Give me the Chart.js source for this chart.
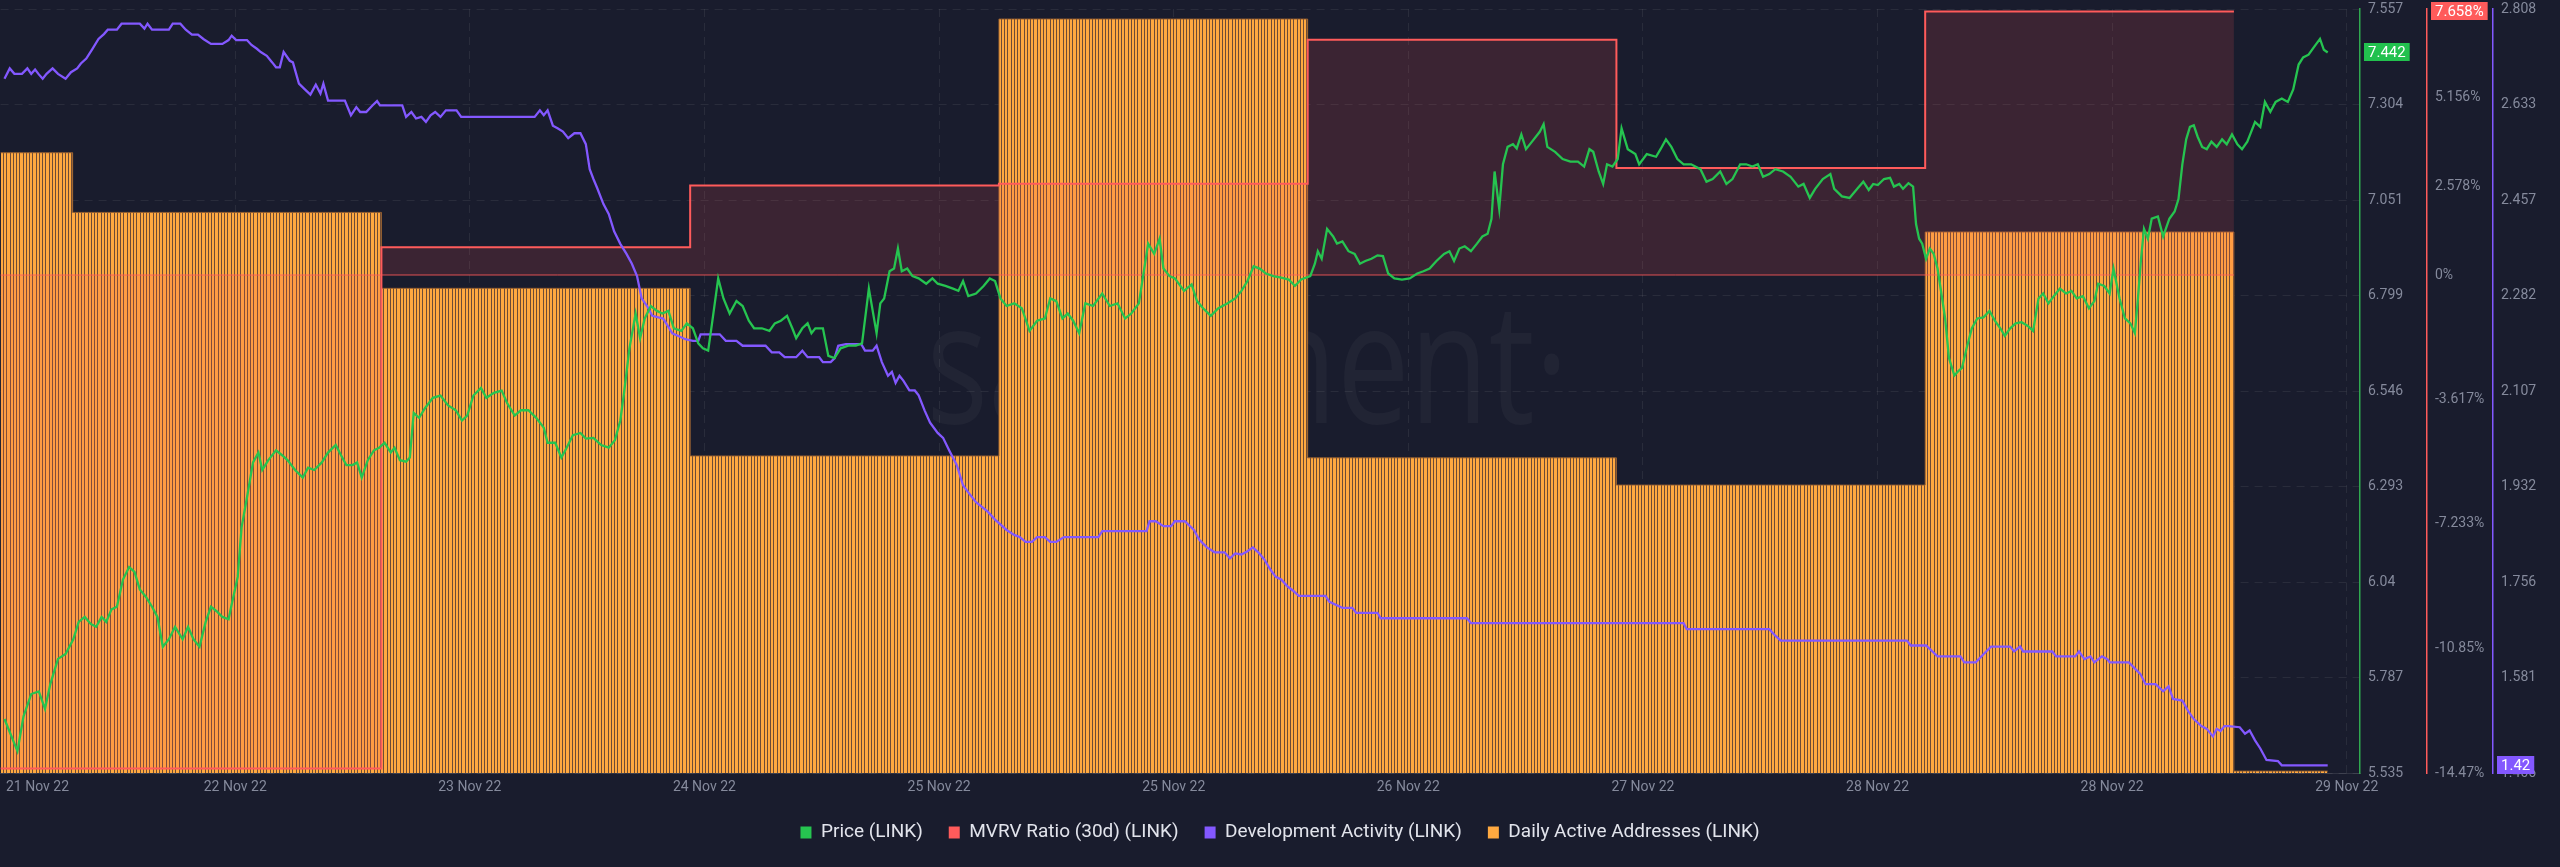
<!DOCTYPE html>
<html>
<head>
<meta charset="utf-8">
<script src="https://cdn.jsdelivr.net/npm/chart.js@4.4.0/dist/chart.umd.min.js"></script>
<style>
  html, body { margin: 0; padding: 0; background: #191c2d; }
  canvas { display: block; }
</style>
</head>
<body>
<canvas id="grafico" width="2560" height="867"></canvas>
<script>
// x axis is in hours from the left edge of the chart
const xTickHours = [2.87, 18.24, 36.47, 54.71, 72.95, 91.19, 109.42, 127.66, 145.9, 164.13, 182.37];
const xTickLabels = ['21 Nov 22', '22 Nov 22', '23 Nov 22', '24 Nov 22', '25 Nov 22', '25 Nov 22',
  '26 Nov 22', '27 Nov 22', '28 Nov 22', '28 Nov 22', '29 Nov 22'];

const priceTicks = [5.535, 5.787, 6.04, 6.293, 6.546, 6.799, 7.051, 7.304, 7.557];
const mvrvTicks = [-14.47, -10.85, -7.233, -3.617, 0, 2.578, 5.156, 7.658];
const devTicks = [1.406, 1.581, 1.756, 1.932, 2.107, 2.282, 2.457, 2.633, 2.808];

// daily series (value holds from one day start to the next)
const dayStartHours = [-18.4, 5.6, 29.6, 53.6, 77.6, 101.6, 125.6, 149.6, 173.6];
const dailyActiveAddresses = [6495, 5870, 5075, 3320, 7895, 3300, 3015, 5665, 20];
const mvrvRatio = [-14.34, -14.34, 0.81, 2.60, 2.65, 6.84, 3.11, 7.658, null];

const priceHours = [
  0.30, 1.31, 1.78, 2.38, 2.97, 3.45, 3.87, 4.46, 5.05, 5.65,
  6.07, 6.54, 7.02, 7.43, 7.85, 8.21, 8.62, 9.04, 9.51, 9.99,
  10.41, 10.82, 11.30, 11.77, 12.19, 12.61, 13.08, 13.56, 14.15, 14.57,
  14.99, 15.46, 15.94, 16.35, 16.83, 17.24, 17.72, 17.96, 18.43, 18.73,
  19.15, 19.62, 20.04, 20.34, 20.81, 21.41, 21.88, 22.30, 22.89, 23.49,
  23.90, 24.38, 24.97, 25.45, 26.05, 26.46, 26.88, 27.35, 27.71, 28.07,
  28.54, 29.02, 29.43, 29.85, 30.33, 30.62, 31.04, 31.52, 31.81, 32.11,
  32.53, 33.00, 33.60, 34.19, 34.79, 35.38, 35.86, 36.27, 36.75, 37.34,
  37.76, 38.35, 38.95, 39.37, 39.96, 40.44, 41.03, 41.63, 42.22, 42.52,
  43.11, 43.59, 44.00, 44.48, 45.07, 45.49, 46.08, 46.68, 47.27, 47.75,
  48.17, 48.46, 48.88, 49.36, 49.71, 50.07, 50.54, 51.02, 51.44, 51.91,
  52.33, 52.92, 53.34, 53.81, 54.23, 54.59, 55.00, 55.30, 55.78, 56.19,
  56.67, 57.20, 57.68, 58.16, 58.57, 59.17, 59.76, 60.18, 60.65, 61.13,
  61.54, 61.84, 62.32, 62.73, 63.03, 63.33, 63.92, 64.34, 64.82, 65.29,
  65.89, 66.48, 66.96, 67.49, 68.09, 68.38, 68.68, 69.10, 69.45, 69.75,
  70.05, 70.47, 70.88, 71.36, 71.95, 72.43, 72.84, 73.44, 74.03, 74.45,
  74.81, 75.22, 75.82, 76.41, 76.89, 77.30, 77.72, 78.20, 78.79, 79.38,
  79.98, 80.57, 81.17, 81.59, 82.06, 82.54, 82.95, 83.37, 83.84, 84.32,
  84.92, 85.63, 86.22, 86.82, 87.41, 87.89, 88.48, 88.78, 89.20, 89.67,
  90.09, 90.39, 90.86, 91.28, 91.99, 92.58, 93.00, 93.47, 94.07, 94.66,
  95.38, 95.97, 96.45, 96.92, 97.40, 97.87, 98.35, 98.94, 99.54, 100.13,
  100.61, 101.09, 101.80, 102.16, 102.39, 102.69, 103.11, 103.58, 103.88, 104.30,
  104.77, 105.25, 105.66, 106.08, 106.56, 107.03, 107.45, 107.86, 108.34, 108.93,
  109.53, 110.12, 110.60, 111.08, 111.61, 112.20, 112.62, 112.98, 113.39, 113.81,
  114.29, 114.76, 115.18, 115.59, 115.89, 116.13, 116.49, 116.78, 117.14, 117.56,
  117.85, 118.21, 118.57, 119.04, 119.64, 119.94, 120.23, 120.83, 121.42, 122.02,
  122.61, 123.09, 123.50, 123.80, 124.22, 124.57, 124.87, 125.29, 125.70, 126.00,
  126.48, 127.07, 127.37, 127.96, 128.68, 129.03, 129.45, 129.87, 130.34, 130.82,
  131.41, 132.13, 132.60, 133.08, 133.67, 134.15, 134.62, 135.22, 135.69, 136.17,
  136.59, 137.00, 137.48, 137.95, 138.55, 139.14, 139.74, 140.15, 140.63, 141.05,
  141.64, 142.23, 142.53, 143.13, 143.72, 144.32, 144.79, 145.21, 145.56, 145.92,
  146.40, 146.87, 147.17, 147.59, 147.88, 148.30, 148.66, 148.89, 149.13, 149.37,
  149.67, 149.96, 150.26, 150.56, 150.86, 151.15, 151.45, 151.87, 152.22, 152.46,
  152.82, 153.23, 153.65, 154.13, 154.60, 155.02, 155.44, 155.79, 156.21, 156.63,
  157.10, 157.58, 157.99, 158.41, 158.77, 159.18, 159.60, 160.07, 160.55, 160.97,
  161.38, 161.86, 162.33, 162.75, 163.05, 163.52, 163.94, 164.24, 164.71, 165.13,
  165.55, 165.90, 166.14, 166.38, 166.61, 166.91, 167.21, 167.69, 168.10, 168.58,
  168.99, 169.29, 169.59, 169.89, 170.18, 170.48, 170.78, 171.13, 171.49, 171.85,
  172.26, 172.68, 173.04, 173.45, 173.87, 174.23, 174.64, 174.94, 175.24, 175.65,
  176.01, 176.43, 176.84, 177.32, 177.79, 178.21, 178.63, 178.98, 179.40, 179.82,
  180.29, 180.59, 180.89
];
const priceValues = [
  5.678, 5.593, 5.685, 5.744, 5.751, 5.705, 5.771, 5.837, 5.850, 5.889,
  5.935, 5.948, 5.929, 5.922, 5.948, 5.935, 5.968, 5.975, 6.047, 6.080,
  6.067, 6.021, 6.001, 5.975, 5.948, 5.869, 5.889, 5.922, 5.889, 5.922,
  5.889, 5.869, 5.935, 5.975, 5.962, 5.948, 5.942, 5.981, 6.054, 6.185,
  6.264, 6.357, 6.383, 6.337, 6.363, 6.389, 6.376, 6.363, 6.337, 6.317,
  6.343, 6.337, 6.357, 6.383, 6.403, 6.376, 6.350, 6.350, 6.357, 6.317,
  6.363, 6.389, 6.396, 6.409, 6.383, 6.396, 6.363, 6.359, 6.370, 6.488,
  6.475, 6.501, 6.528, 6.534, 6.508, 6.495, 6.468, 6.481, 6.534, 6.554,
  6.528, 6.541, 6.547, 6.514, 6.481, 6.495, 6.495, 6.475, 6.449, 6.409,
  6.409, 6.370, 6.396, 6.429, 6.435, 6.420, 6.422, 6.403, 6.396, 6.416,
  6.468, 6.541, 6.659, 6.751, 6.686, 6.738, 6.771, 6.758, 6.751, 6.758,
  6.712, 6.705, 6.725, 6.712, 6.672, 6.659, 6.653, 6.725, 6.844, 6.791,
  6.751, 6.784, 6.771, 6.732, 6.712, 6.712, 6.705, 6.725, 6.732, 6.745,
  6.712, 6.686, 6.712, 6.725, 6.699, 6.712, 6.712, 6.639, 6.633, 6.659,
  6.666, 6.666, 6.672, 6.817, 6.699, 6.778, 6.791, 6.863, 6.870, 6.923,
  6.863, 6.870, 6.850, 6.844, 6.830, 6.844, 6.830, 6.824, 6.817, 6.811,
  6.837, 6.797, 6.804, 6.824, 6.844, 6.837, 6.791, 6.771, 6.778, 6.765,
  6.705, 6.732, 6.738, 6.791, 6.784, 6.738, 6.751, 6.732, 6.699, 6.778,
  6.771, 6.804, 6.771, 6.778, 6.738, 6.751, 6.778, 6.844, 6.936, 6.909,
  6.949, 6.870, 6.850, 6.844, 6.811, 6.828, 6.784, 6.765, 6.745, 6.765,
  6.778, 6.791, 6.811, 6.837, 6.876, 6.870, 6.857, 6.850, 6.846, 6.841,
  6.824, 6.841, 6.850, 6.883, 6.916, 6.896, 6.975, 6.955, 6.936, 6.942,
  6.916, 6.909, 6.883, 6.890, 6.896, 6.905, 6.903, 6.857, 6.844, 6.841,
  6.844, 6.857, 6.863, 6.870, 6.890, 6.909, 6.916, 6.890, 6.923, 6.929,
  6.916, 6.936, 6.955, 6.962, 7.002, 7.127, 7.028, 7.146, 7.192, 7.199,
  7.188, 7.225, 7.186, 7.206, 7.232, 7.252, 7.192, 7.179, 7.160, 7.153,
  7.153, 7.140, 7.186, 7.179, 7.127, 7.094, 7.146, 7.140, 7.160, 7.241,
  7.186, 7.173, 7.146, 7.173, 7.166, 7.186, 7.212, 7.192, 7.160, 7.146,
  7.146, 7.133, 7.100, 7.107, 7.127, 7.094, 7.107, 7.146, 7.146, 7.140,
  7.146, 7.113, 7.120, 7.133, 7.127, 7.113, 7.087, 7.094, 7.057, 7.081,
  7.107, 7.120, 7.081, 7.061, 7.057, 7.081, 7.100, 7.078, 7.094, 7.091,
  7.107, 7.110, 7.087, 7.094, 7.081, 7.096, 7.087, 6.988, 6.949, 6.936,
  6.896, 6.923, 6.909, 6.870, 6.804, 6.738, 6.633, 6.587, 6.600, 6.607,
  6.659, 6.712, 6.738, 6.741, 6.758, 6.732, 6.712, 6.692, 6.712, 6.725,
  6.728, 6.718, 6.705, 6.791, 6.804, 6.778, 6.797, 6.817, 6.804, 6.811,
  6.791, 6.797, 6.765, 6.784, 6.830, 6.824, 6.804, 6.870, 6.791, 6.738,
  6.725, 6.699, 6.791, 6.896, 6.975, 6.949, 7.002, 7.008, 6.955, 7.002,
  7.021, 7.054, 7.146, 7.212, 7.245, 7.249, 7.219, 7.192, 7.186, 7.206,
  7.192, 7.212, 7.199, 7.225, 7.199, 7.186, 7.206, 7.232, 7.258, 7.245,
  7.311, 7.285, 7.311, 7.320, 7.311, 7.344, 7.410, 7.429, 7.436, 7.456,
  7.478, 7.449, 7.442
];

const devHours = [
  0.30, 0.71, 1.07, 1.66, 2.08, 2.38, 2.68, 2.97, 3.27, 3.57,
  4.04, 4.46, 5.05, 5.47, 5.95, 6.24, 6.66, 7.14, 7.61, 8.03,
  8.33, 9.04, 9.40, 10.82, 11.18, 11.42, 11.77, 13.08, 13.38, 13.97,
  14.39, 14.87, 15.34, 15.76, 16.35, 17.24, 17.72, 17.96, 18.31, 19.15,
  19.50, 19.92, 20.22, 20.69, 21.11, 21.41, 21.70, 22.00, 22.48, 22.72,
  23.19, 23.67, 24.08, 24.50, 24.86, 25.09, 25.45, 26.76, 27.23, 27.65,
  27.95, 28.42, 28.90, 29.26, 29.49, 31.22, 31.52, 31.93, 32.29, 32.71,
  33.06, 33.42, 33.78, 34.19, 34.61, 35.44, 35.80, 41.51, 41.92, 42.22,
  42.52, 42.93, 43.29, 43.71, 44.12, 44.60, 45.07, 45.49, 45.79, 46.08,
  46.38, 46.86, 47.27, 47.69, 48.17, 48.64, 49.06, 49.47, 49.83, 50.25,
  50.66, 51.14, 51.50, 51.85, 52.21, 52.68, 53.22, 53.81, 54.23, 54.41,
  55.90, 56.37, 57.20, 57.68, 59.46, 59.94, 60.53, 60.95, 61.84, 62.32,
  62.73, 63.63, 63.92, 64.52, 64.82, 65.11, 65.71, 66.90, 67.19, 67.79,
  68.09, 68.50, 68.98, 69.28, 69.57, 69.87, 70.17, 70.64, 71.06, 71.36,
  71.83, 72.25, 72.84, 73.26, 73.74, 74.33, 74.81, 75.22, 75.82, 76.71,
  77.30, 78.20, 78.79, 79.21, 79.68, 80.16, 80.57, 81.17, 81.59, 82.06,
  82.65, 85.33, 85.63, 89.08, 89.31, 89.79, 90.39, 90.98, 91.28, 92.05,
  92.76, 93.18, 93.77, 94.37, 95.14, 95.56, 95.97, 96.45, 96.92, 97.34,
  97.76, 98.23, 98.71, 99.12, 99.54, 100.01, 100.49, 100.91, 102.99, 103.29,
  104.30, 105.07, 105.37, 107.03, 107.27, 113.99, 114.29, 130.82, 131.06, 137.48,
  137.95, 138.37, 148.18, 148.48, 149.67, 150.56, 152.34, 152.64, 153.53, 154.13,
  154.72, 156.21, 156.51, 156.98, 157.22, 159.48, 159.78, 161.26, 161.56, 161.98,
  162.45, 162.75, 163.34, 163.76, 163.94, 165.43, 166.32, 166.73, 167.51, 168.10,
  168.52, 168.87, 169.59, 170.06, 170.48, 171.07, 171.49, 171.97, 172.26, 172.56,
  172.86, 173.16, 174.05, 174.46, 174.82, 175.24, 175.65, 176.13, 177.02, 177.32,
  180.89
];
const devValues = [
  2.680, 2.699, 2.689, 2.689, 2.699, 2.689, 2.697, 2.688, 2.680, 2.689,
  2.699, 2.689, 2.680, 2.692, 2.699, 2.708, 2.717, 2.735, 2.753, 2.762,
  2.770, 2.770, 2.781, 2.781, 2.772, 2.781, 2.770, 2.770, 2.781, 2.781,
  2.770, 2.761, 2.761, 2.753, 2.744, 2.744, 2.751, 2.759, 2.751, 2.751,
  2.742, 2.735, 2.729, 2.722, 2.710, 2.701, 2.701, 2.729, 2.713, 2.710,
  2.671, 2.660, 2.651, 2.669, 2.653, 2.671, 2.640, 2.640, 2.613, 2.628,
  2.619, 2.619, 2.631, 2.639, 2.631, 2.631, 2.610, 2.619, 2.607, 2.610,
  2.601, 2.613, 2.619, 2.610, 2.622, 2.622, 2.610, 2.610, 2.622, 2.613,
  2.622, 2.594, 2.589, 2.583, 2.571, 2.580, 2.580, 2.560, 2.514, 2.496,
  2.479, 2.450, 2.432, 2.400, 2.377, 2.359, 2.341, 2.318, 2.277, 2.263,
  2.245, 2.242, 2.240, 2.227, 2.213, 2.208, 2.202, 2.199, 2.199, 2.211,
  2.211, 2.199, 2.199, 2.190, 2.190, 2.178, 2.178, 2.169, 2.169, 2.181,
  2.169, 2.169, 2.160, 2.160, 2.167, 2.190, 2.193, 2.193, 2.181, 2.181,
  2.190, 2.160, 2.135, 2.142, 2.122, 2.135, 2.126, 2.108, 2.108, 2.099,
  2.071, 2.049, 2.030, 2.021, 1.998, 1.971, 1.934, 1.921, 1.903, 1.886,
  1.871, 1.852, 1.843, 1.839, 1.830, 1.830, 1.839, 1.839, 1.830, 1.830,
  1.839, 1.839, 1.850, 1.850, 1.868, 1.868, 1.859, 1.859, 1.868, 1.868,
  1.852, 1.834, 1.820, 1.811, 1.811, 1.800, 1.809, 1.807, 1.813, 1.820,
  1.811, 1.798, 1.779, 1.766, 1.761, 1.749, 1.740, 1.731, 1.731, 1.720,
  1.709, 1.709, 1.700, 1.700, 1.690, 1.690, 1.681, 1.681, 1.670, 1.670,
  1.658, 1.649, 1.649, 1.640, 1.640, 1.620, 1.620, 1.609, 1.609, 1.624,
  1.638, 1.638, 1.629, 1.638, 1.629, 1.629, 1.620, 1.620, 1.629, 1.615,
  1.620, 1.609, 1.620, 1.615, 1.609, 1.609, 1.588, 1.569, 1.569, 1.556,
  1.565, 1.542, 1.539, 1.519, 1.505, 1.492, 1.487, 1.473, 1.487, 1.483,
  1.492, 1.492, 1.490, 1.478, 1.484, 1.466, 1.451, 1.430, 1.428, 1.420,
  1.420
];

const corVerde = '#26c450';
const corVermelha = '#ff5b5b';
const corRoxa = '#8358ff';
const corLaranja = '#ffa940';
const corTexto = '#858a9c';
const corGrade = 'rgba(255,255,255,0.07)';

Chart.defaults.font.family = 'Roboto, "Open Sans", sans-serif';

// striped fill for the daily active addresses blocks
function listras(ctx) {
  let c = document.createElement('canvas');
  c.width = 13; c.height = 4;
  let g = c.getContext('2d');
  g.fillStyle = corLaranja;
  g.fillRect(0, 0, 13, 4);
  g.fillStyle = '#6e4c36';
  [0, 3, 6, 10].forEach(x => g.fillRect(x, 0, 1, 4));
  return ctx.createPattern(c, 'repeat');
}

const ctx = document.getElementById('grafico').getContext('2d');

const lastHour = priceHours[priceHours.length - 1];
const daaPoints = dayStartHours.map((h, i) => ({ x: h, y: dailyActiveAddresses[i] }));
daaPoints.push({ x: lastHour, y: dailyActiveAddresses[dailyActiveAddresses.length - 1] });

const mvrvPoints = [];
mvrvRatio.forEach((v, i) => {
  if (v !== null) mvrvPoints.push({ x: dayStartHours[i], y: v });
});
mvrvPoints.push({ x: dayStartHours[mvrvPoints.length], y: mvrvPoints[mvrvPoints.length - 1].y });
const mvrvBase = [{ x: mvrvPoints[0].x, y: 0 }, { x: mvrvPoints[mvrvPoints.length - 1].x, y: 0 }];

const legendColors = [corVerde, corVermelha, corRoxa, corLaranja];

const fundo = {
  id: 'fundo',
  beforeDraw(chart) {
    const c = chart.ctx;
    c.save();
    c.fillStyle = '#191c2d';
    c.fillRect(0, 0, chart.width, chart.height);
    c.restore();
  }
};

const marcaDagua = {
  id: 'marcaDagua',
  beforeDatasetsDraw(chart) {
    const c = chart.ctx;
    const a = chart.chartArea;
    c.save();
    c.font = '400 168px "Open Sans"';
    c.fillStyle = 'rgba(255,255,255,0.035)';
    c.textBaseline = 'alphabetic';
    const texto = 'santiment·';
    const w = c.measureText(texto).width;
    c.translate(a.left + 926, a.top + 414);
    c.scale(642 / w, 1);
    c.fillText(texto, 0, 0);
    c.restore();
  }
};

const etiquetas = {
  id: 'etiquetas',
  afterDraw(chart) {
    const c = chart.ctx;
    const marcas = [
      { eixo: 'yPrice', valor: priceValues[priceValues.length - 1], texto: String(priceValues[priceValues.length - 1]), cor: '#22c14e' },
      { eixo: 'yMvrv', valor: mvrvPoints[mvrvPoints.length - 1].y, texto: mvrvPoints[mvrvPoints.length - 1].y + '%', cor: corVermelha },
      { eixo: 'yDev', valor: devValues[devValues.length - 1], texto: String(devValues[devValues.length - 1]), cor: corRoxa }
    ];
    c.save();
    c.font = '15px Roboto';
    c.textBaseline = 'middle';
    marcas.forEach(m => {
      const s = chart.scales[m.eixo];
      const y = s.getPixelForValue(m.valor);
      const w = c.measureText(m.texto).width + 8;
      const h = 18;
      c.fillStyle = m.cor;
      c.fillRect(s.left + 4, Math.round(y - h / 2), w, h);
      c.fillStyle = '#ffffff';
      c.fillText(m.texto, s.left + 8, y + 1);
    });
    c.restore();
  }
};

const yAxis = (pos, weight, min, max, ticks, cor, fmt, grade) => ({
  position: pos,
  weight: weight,
  min: min,
  max: max,
  afterBuildTicks: s => { s.ticks = ticks.map(v => ({ value: v })); },
  afterFit: s => {
    s.width = weight === 1 ? 66 : 67;
    s.paddingTop = 9;
    s.paddingBottom = 0;
  },
  ticks: { color: corTexto, font: { size: 14 }, padding: 8, autoSkip: false, callback: fmt },
  grid: { display: grade, color: corGrade, drawTicks: false },
  border: { color: cor, width: 1.5, dash: [8, 6] }
});

new Chart(ctx, {
  type: 'line',
  data: {
    datasets: [
      {
        label: 'Price (LINK)',
        data: priceHours.map((h, i) => ({ x: h, y: priceValues[i] })),
        yAxisID: 'yPrice',
        borderColor: corVerde,
        backgroundColor: corVerde,
        borderWidth: 2.3,
        pointRadius: 0,
        fill: false,
        order: 0
      },
      {
        label: 'MVRV Ratio (30d) (LINK)',
        data: mvrvPoints,
        yAxisID: 'yMvrv',
        stepped: 'before',
        borderColor: corVermelha,
        backgroundColor: 'rgba(255,90,90,0.15)',
        borderWidth: 2,
        pointRadius: 0,
        fill: { value: 0 },
        order: 3
      },
      {
        label: 'Development Activity (LINK)',
        data: devHours.map((h, i) => ({ x: h, y: devValues[i] })),
        yAxisID: 'yDev',
        borderColor: corRoxa,
        backgroundColor: corRoxa,
        borderWidth: 2.3,
        pointRadius: 0,
        fill: false,
        order: 1
      },
      {
        label: 'Daily Active Addresses (LINK)',
        data: daaPoints,
        yAxisID: 'yDaa',
        stepped: 'before',
        borderColor: 'rgba(150,95,50,0.9)',
        backgroundColor: listras(ctx),
        borderWidth: 1,
        pointRadius: 0,
        fill: 'origin',
        order: 4
      },
      {
        label: '',
        data: mvrvBase,
        yAxisID: 'yMvrv',
        borderColor: 'rgba(255,91,91,0.85)',
        borderWidth: 1,
        pointRadius: 0,
        fill: false,
        order: 2
      }
    ]
  },
  options: {
    responsive: false,
    animation: false,
    events: [],
    layout: { padding: { left: 0, right: 0, top: 0, bottom: 15 } },
    scales: {
      x: {
        type: 'linear',
        min: 0,
        max: 183.4,
        afterBuildTicks: s => { s.ticks = xTickHours.map(v => ({ value: v })); },
        afterFit: s => { s.height = 24; },
        ticks: { color: corTexto, font: { size: 14 }, padding: 6, maxRotation: 0, autoSkip: false,
          callback: (v, i) => xTickLabels[i] },
        grid: { color: c => c.index === 0 ? 'rgba(0,0,0,0)' : corGrade, drawTicks: false },
        border: { color: 'rgba(255,255,255,0.1)', width: 1, dash: [8, 6] }
      },
      yPrice: yAxis('right', 0, 5.535, 7.557, priceTicks, '#2fa84f', v => String(v), true),
      yMvrv: yAxis('right', 1, -14.47, 7.73, mvrvTicks, corVermelha, v => v + '%', false),
      yDev: yAxis('right', 2, 1.406, 2.808, devTicks, corRoxa, v => String(v), false),
      yDaa: { display: false, min: 0, max: 8000 }
    },
    plugins: {
      tooltip: { enabled: false },
      legend: {
        position: 'bottom',
        labels: {
          color: '#e2e4ec',
          font: { size: 19 },
          boxWidth: 11,
          boxHeight: 12,
          padding: 26,
          generateLabels: chart => Chart.defaults.plugins.legend.labels.generateLabels(chart)
            .map(item => Object.assign(item, {
              fillStyle: legendColors[item.datasetIndex],
              strokeStyle: legendColors[item.datasetIndex],
              lineWidth: 0
            })),
          filter: item => item.text !== '',
          sort: (a, b) => a.datasetIndex - b.datasetIndex
        }
      }
    }
  },
  plugins: [fundo, marcaDagua, etiquetas]
});
</script>
</body>
</html>
